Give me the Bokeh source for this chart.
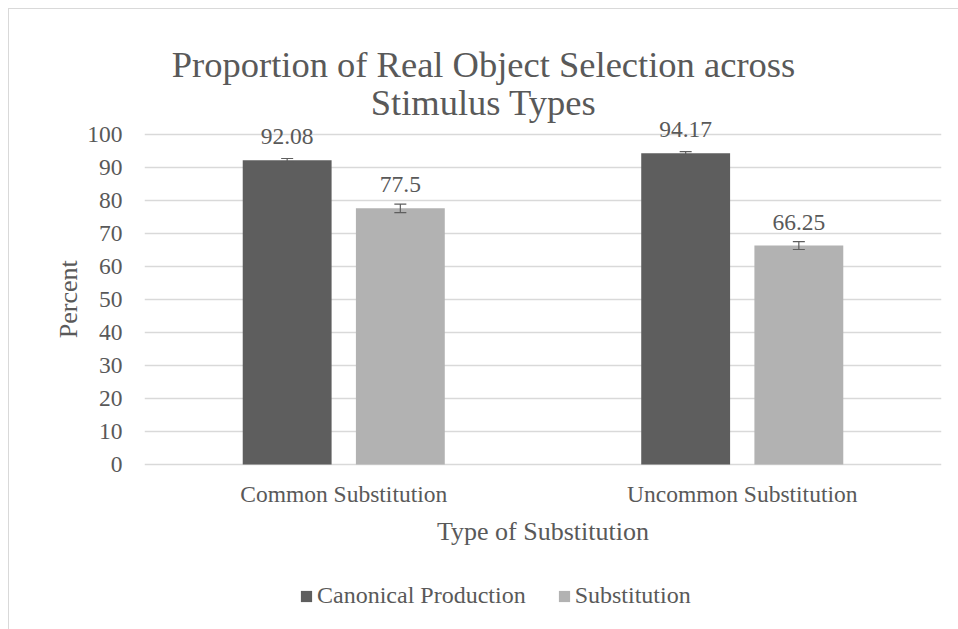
from bokeh.plotting import figure
from bokeh.models import (ColumnDataSource, FactorRange, Range1d, FixedTicker, Whisker,
                          TeeHead, LabelSet, Label, Legend, LegendItem, Title)
from bokeh.transform import dodge
from bokeh.core.properties import value
from bokeh.embed import file_html
from bokeh.resources import INLINE

# ---- data ----
categories = ["Common Substitution", "Uncommon Substitution"]
series_names = ["Canonical Production", "Substitution"]
canonical = [92.08, 94.17]
substitution = [77.5, 66.25]
canonical_err = [0.5, 0.5]
substitution_err = [1.3, 1.2]
y_ticks = [0, 10, 20, 30, 40, 50, 60, 70, 80, 90, 100]
title_lines = ["Proportion of Real Object Selection across", "Stimulus Types"]
x_title = "Type of Substitution"
y_title = "Percent"

FONT = "Liberation Serif"
TEXT = "#595959"
DARK = "#5E5E5E"
LIGHT = "#B2B2B2"
GRID = "#D9D9D9"
OFF = 0.142
BW = 0.223

# layout (pixels inside the figure)
W, H = 950, 621
FRAME_L, FRAME_R = 135, 932
Y0_PX, Y100_PX = 455, 124.5          # pixel rows of 0 and 100, from figure top
PPU = (Y0_PX - Y100_PX) / 100.0

src = ColumnDataSource(dict(
    cat=categories,
    canon=canonical,
    subst=substitution,
    canon_lo=[v - e for v, e in zip(canonical, canonical_err)],
    canon_hi=[v + e for v, e in zip(canonical, canonical_err)],
    subst_lo=[v - e for v, e in zip(substitution, substitution_err)],
    subst_hi=[v + e for v, e in zip(substitution, substitution_err)],
    canon_lbl=[str(v) for v in canonical],
    subst_lbl=[str(v) for v in substitution],
))

p = figure(x_range=FactorRange(*categories, range_padding=0),
           y_range=Range1d(-(H - Y0_PX) / PPU, Y0_PX / PPU),
           width=W, height=H, output_backend="svg", toolbar_location=None,
           min_border_left=FRAME_L, min_border_right=W - FRAME_R,
           min_border_top=0, min_border_bottom=0, margin=(8, 0, 0, 8))
p.outline_line_color = None
p.styles = {"border-top": "1px solid #D9D9D9", "border-left": "1px solid #D9D9D9"}

r1 = p.vbar(x=dodge("cat", -OFF, range=p.x_range), top="canon", width=BW, source=src,
            fill_color=DARK, line_color=None)
r2 = p.vbar(x=dodge("cat", OFF, range=p.x_range), top="subst", width=BW, source=src,
            fill_color=LIGHT, line_color=None)

for xo, lo, hi in [(-OFF, "canon_lo", "canon_hi"), (OFF, "subst_lo", "subst_hi")]:
    w = Whisker(base=dodge("cat", xo, range=p.x_range), lower=lo, upper=hi, source=src,
                line_color=DARK, line_width=1.2, level="overlay",
                upper_head=TeeHead(size=12, line_color=DARK, line_width=1.2),
                lower_head=TeeHead(size=12, line_color=DARK, line_width=1.2))
    p.add_layout(w)

for xo, col, lbl in [(-OFF, "canon", "canon_lbl"), (OFF, "subst", "subst_lbl")]:
    ls = LabelSet(x=dodge("cat", xo, range=p.x_range), y=col, text=lbl, source=src,
                  y_offset=16, text_align="center", text_baseline="alphabetic",
                  text_font=value(FONT), text_font_size="23.5px", text_color=TEXT)
    p.add_layout(ls)

p.ygrid.grid_line_color = GRID
p.ygrid.grid_line_width = 1.3
p.xgrid.grid_line_color = None
p.yaxis.ticker = FixedTicker(ticks=y_ticks)
p.xaxis.fixed_location = 0

for ax in (p.xaxis, p.yaxis):
    ax.axis_line_color = None
    ax.major_tick_line_color = None
    ax.minor_tick_line_color = None
    ax.major_tick_out = 0
    ax.major_tick_in = 0
    ax.major_label_text_font = FONT
    ax.major_label_text_font_size = "23.5px"
    ax.major_label_text_font_style = "normal"
    ax.major_label_text_color = TEXT
    ax.axis_label_text_font = FONT
    ax.axis_label_text_font_size = "26px"
    ax.axis_label_text_font_style = "normal"
    ax.axis_label_text_color = TEXT

p.xaxis.axis_label = x_title
p.xaxis.major_label_standoff = 16
p.xaxis.axis_label_standoff = 7
p.yaxis.major_label_standoff = 22

ylab = Title(text=y_title, align="left", offset=H - Y0_PX + (Y0_PX - Y100_PX) / 2 - 39,
             text_font=FONT, text_font_size="26px", text_font_style="normal",
             text_color=TEXT, standoff=4)
p.add_layout(ylab, "left")

for i, t in enumerate(title_lines):
    p.add_layout(Label(x=482 - 8 - FRAME_L, y=H - 55 - 38 * i, x_units="screen", y_units="screen",
                       text=t, text_align="center", text_baseline="alphabetic",
                       text_font=FONT, text_font_size="36.5px", text_color=TEXT))

legend = Legend(items=[LegendItem(label=series_names[0], renderers=[r1]),
                       LegendItem(label=series_names[1], renderers=[r2])],
                orientation="horizontal", location=(298 - 8 - FRAME_L, 21),
                glyph_width=14, glyph_height=14, label_standoff=4, spacing=31,
                padding=0, margin=0, border_line_color=None, background_fill_alpha=0,
                label_text_font=FONT, label_text_font_size="24px", label_text_color=TEXT)
p.add_layout(legend)

open("out.html", "w").write(file_html(p, INLINE))
